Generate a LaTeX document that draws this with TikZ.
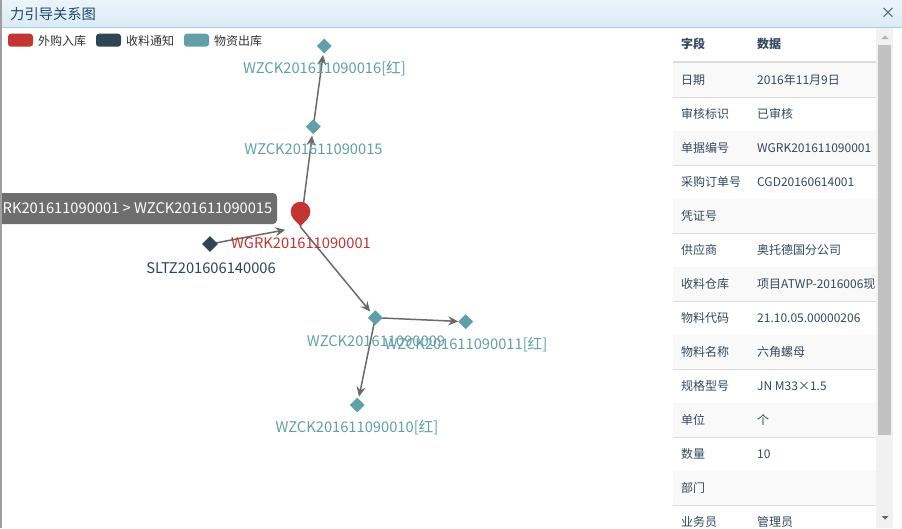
\documentclass[tikz,border=0pt]{standalone}
\usepackage{fontspec}
\setmainfont{Noto Sans CJK SC}
\usetikzlibrary{shapes.geometric,arrows.meta}
\pgfdeclarelayer{back}
\pgfdeclarelayer{bg}
\pgfsetlayers{back,bg,main}
\definecolor{cred}{HTML}{C23531}
\definecolor{cdark}{HTML}{2F4554}
\definecolor{cteal}{HTML}{61A0A8}
\definecolor{edgegray}{HTML}{6A6A6A}
\definecolor{titletop}{HTML}{EAF4FA}
\definecolor{titlebot}{HTML}{DBEAF5}
\definecolor{titleline}{HTML}{A9CDE4}
\definecolor{titletext}{HTML}{1F4A6B}
\definecolor{tabletext}{HTML}{34495E}
\definecolor{rowshade}{HTML}{F9F9F9}
\definecolor{rowline}{HTML}{DDDDDD}
\definecolor{tipbg}{HTML}{6E6E6E}
\definecolor{legtext}{HTML}{333333}
\definecolor{sbtrack}{HTML}{F1F1F1}
\definecolor{sbthumb}{HTML}{C1C1C1}
\begin{document}
\begin{tikzpicture}[x=1pt,y=-1pt,
  dia/.style={diamond,minimum width=15pt,minimum height=15pt,inner sep=0pt,draw=none},
  lbl/.style={inner sep=0pt,font=\fontsize{14.7pt}{16pt}\selectfont},
  legbox/.style={rounded corners=3pt},
  legtxt/.style={anchor=west,inner sep=0pt,text=legtext,font=\fontsize{12pt}{14pt}\selectfont},
  lnk/.style={draw=edgegray,line width=1.5pt,-{Stealth[length=10pt,width=9pt,inset=3.5pt]}},
  cell/.style={anchor=west,inner sep=0pt,text=tabletext,font=\fontsize{12pt}{14pt}\selectfont}]
\useasboundingbox (0,0) rectangle (902,528);
\begin{pgfonlayer}{back}
\fill[white] (0,0) rectangle (902,528);
\end{pgfonlayer}
% title bar
\shade[top color=titletop,bottom color=titlebot] (0,0) rectangle (902,27);
\draw[titleline,line width=1pt] (0,27) -- (902,27);
\node[anchor=west,inner sep=0pt,text=titletext,font=\fontsize{14.3pt}{16pt}\selectfont] (title) at (10,14) {力引导关系图};
\node[inner sep=0pt,text=titletext!70!gray,font=\fontsize{15pt}{16pt}\selectfont] (close) at (888,13) {×};
% left strip
\fill[gray!75] (0,0) rectangle (2,528);
% legend
\fill[cred,legbox] (8,33.7) rectangle (33,46.7);
\node[legtxt] (lg1) at (38,40.5) {外购入库};
\fill[cdark,legbox] (96,33.7) rectangle (121,46.7);
\node[legtxt] (lg2) at (126,40.5) {收料通知};
\fill[cteal,legbox] (184,33.7) rectangle (209,46.7);
\node[legtxt] (lg3) at (214,40.5) {物资出库};
% nodes
\node[dia,fill=cteal] (w16) at (324.3,46) {};
\node[dia,fill=cteal] (w15) at (313.3,126.7) {};
\coordinate (wgrk) at (300.5,227);
\node[dia,fill=cdark,minimum width=16pt,minimum height=16pt] (sltz) at (210,244) {};
\node[dia,fill=cteal] (w09) at (375.3,317.7) {};
\node[dia,fill=cteal] (w11) at (465.7,321.7) {};
\node[dia,fill=cteal] (w10) at (357.3,405) {};
% pin for WGRK
\fill[cred] ([shift={(0,-15.5)}]wgrk) circle (9.8pt);
\fill[cred] ([shift={(-9.2,-12.2)}]wgrk) .. controls ([shift={(-7,-6)}]wgrk) and ([shift={(-2,-4)}]wgrk) .. ([shift={(0,-0.5)}]wgrk)
  .. controls ([shift={(2,-4)}]wgrk) and ([shift={(7,-6)}]wgrk) .. ([shift={(9.2,-12.2)}]wgrk) -- cycle;
% edges
\begin{pgfonlayer}{bg}
\draw[lnk,shorten >=15.5pt] (sltz.center) -- (wgrk);
\draw[lnk,shorten >=9pt] (wgrk) -- (w15.center);
\draw[lnk,shorten >=9pt] (w15.center) -- (w16.center);
\draw[lnk,shorten >=8pt] (wgrk) -- (w09.center);
\draw[lnk,shorten >=7.5pt] (w09.center) -- (w11.center);
\draw[lnk,shorten >=8.5pt] (w09.center) -- (w10.center);
\end{pgfonlayer}
% labels
\node[lbl,text=cteal] (l16) at (324.5,69) {WZCK201611090016[红]};
\node[lbl,text=cteal] (l15) at (313.5,149) {WZCK201611090015};
\node[lbl,text=cred] (lwg) at (301,243) {WGRK201611090001};
\node[lbl,text=cdark] (lsl) at (211,268) {SLTZ201606140006};
\node[lbl,text=cteal] (l09) at (376,341) {WZCK201611090009};
\node[lbl,text=cteal] (l11) at (466,345) {WZCK201611090011[红]};
\node[lbl,text=cteal] (l10) at (357,428) {WZCK201611090010[红]};
% tooltip
\begin{scope}
\clip (2,0) rectangle (300,528);
\fill[tipbg,rounded corners=4pt] (-60,193) rectangle (277,224);
\node[anchor=east,inner sep=0pt,text=white,font=\fontsize{14.7pt}{16pt}\selectfont] (tip) at (272.5,208.5) {WGRK201611090001 > WZCK201611090015};
\end{scope}
% table
\begin{scope}
\clip (673,28) rectangle (876,528);
\node[cell,font=\fontsize{12pt}{14pt}\selectfont\bfseries] (h1) at (681,44) {字段};
\node[cell,font=\fontsize{12pt}{14pt}\selectfont\bfseries] (h2) at (757,44) {数据};
\foreach \i/\f/\v in {0/日期/2016年11月9日,1/审核标识/已审核,2/单据编号/WGRK201611090001,3/采购订单号/CGD20160614001,4/凭证号/{},5/供应商/奥托德国分公司,6/收料仓库/项目ATWP-2016006现,7/物料代码/21.10.05.00000206,8/物料名称/六角螺母,9/规格型号/JN M33×1.5,10/单位/个,11/数量/10,12/部门/{},13/业务员/管理员}{
  \pgfmathtruncatemacro{\odd}{mod(\i,2)}
  \ifnum\odd=0 \fill[rowshade] (673,63+34*\i) rectangle (876,97+34*\i);\fi
  \draw[rowline,line width=1pt] (673,97.5+34*\i) -- (876,97.5+34*\i);
  \node[cell] (f\i) at (681,80+34*\i) {\f};
  \node[cell] (v\i) at (757,80+34*\i) {\v};
}
\draw[rowline,line width=2pt] (673,62) -- (876,62);
\end{scope}
% scrollbar
\fill[sbtrack] (876,28) rectangle (893,528);
\fill[sbthumb] (878,45) rectangle (891,435);
\fill[gray!60] (881.5,39) -- (888.5,39) -- (885,35.5) -- cycle;
\fill[gray!80!black] (881.5,516) -- (888.5,516) -- (885,519.5) -- cycle;
\end{tikzpicture}
\end{document}
